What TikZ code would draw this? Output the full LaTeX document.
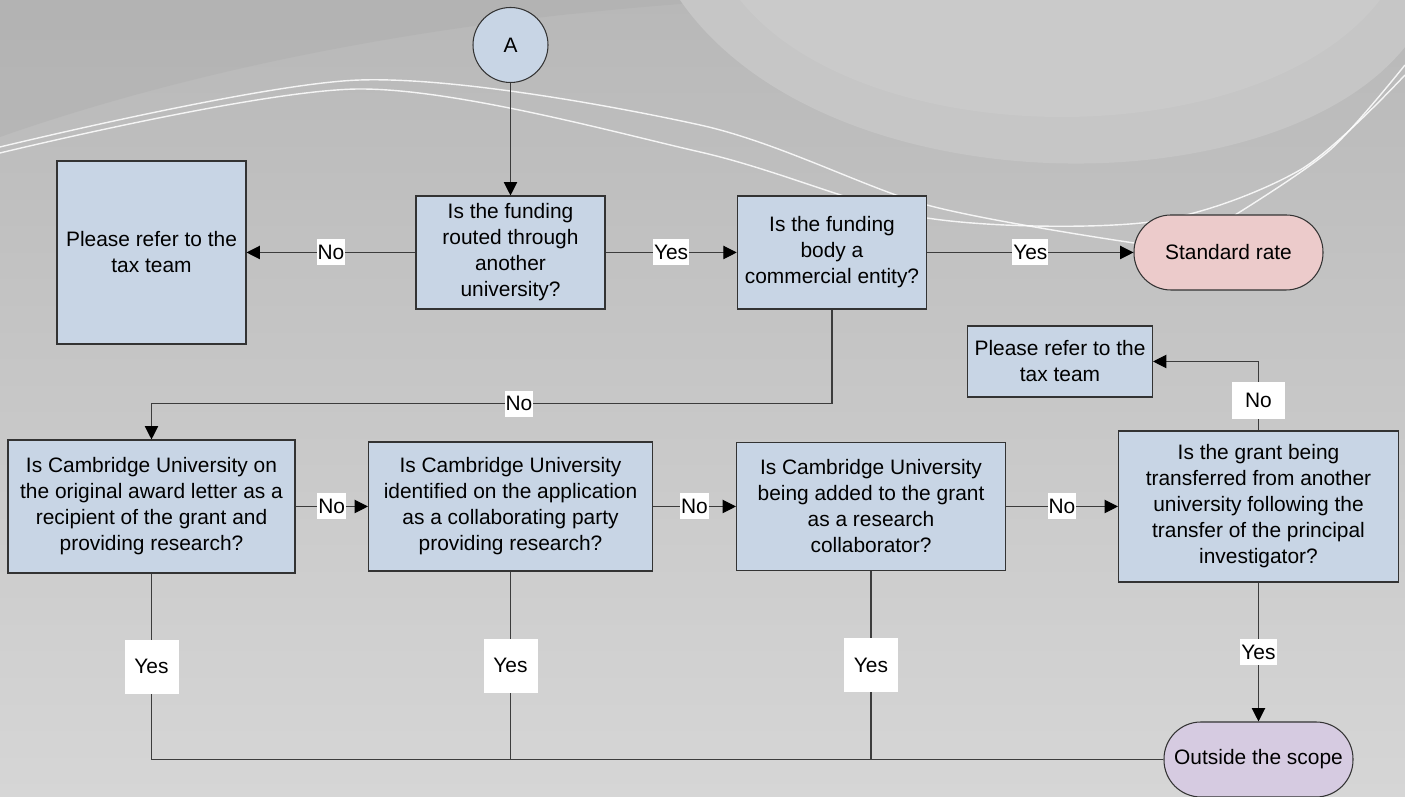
\documentclass[tikz,border=0pt]{standalone}
\usepackage{fontspec}
\setmainfont{Liberation Sans}
\usetikzlibrary{positioning, arrows.meta}

\definecolor{qblue}{RGB}{200,213,229}
\definecolor{stdpink}{RGB}{236,203,203}
\definecolor{scopelilac}{RGB}{214,203,225}
\definecolor{edgegray}{RGB}{60,60,60}
\definecolor{bgtop}{RGB}{184,184,184}
\definecolor{bgbottom}{RGB}{214,214,214}
\definecolor{bgdark}{RGB}{170,170,170}
\definecolor{bowlgray}{RGB}{202,202,202}
\definecolor{bandgray}{RGB}{198,198,198}

\newcommand{\flowfont}{\fontsize{11.9pt}{14.8pt}\selectfont}

\begin{document}
\begin{tikzpicture}[node distance=1.5cm]
    % Define styles
    \tikzstyle{question} = [rectangle, draw=black!80, fill=qblue, align=center, font=\flowfont, line width=0.6pt]
    \tikzstyle{terminal} = [rectangle, rounded corners=0.74cm, draw=black!80, align=center, font=\flowfont, minimum width=3.78cm, minimum height=1.5cm, line width=0.6pt]
    \tikzstyle{connector} = [circle, draw=black!80, fill=qblue, font=\flowfont, minimum size=1.5cm, inner sep=0pt, line width=0.6pt]
    \tikzstyle{line} = [draw=edgegray, line width=0.6pt]
    \tikzstyle{arrow} = [line, -{Triangle[length=7.6pt, width=7.6pt, color=black]}]
    \tikzstyle{lbl} = [fill=white, font=\flowfont, inner xsep=0.6pt, inner ysep=0pt, minimum height=0.52cm]
    \tikzstyle{midlbl} = [fill=white, font=\flowfont, inner sep=0pt, minimum width=1.06cm, minimum height=0.74cm]
    \tikzstyle{biglbl} = [fill=white, font=\flowfont, inner sep=0pt, minimum width=1.08cm, minimum height=1.08cm]

    \useasboundingbox (0,0) rectangle (28.1,15.94);

    % Background
    \shade[top color=bgtop, bottom color=bgbottom] (0,0) rectangle (28.1,15.94);
    \fill[bgdark, opacity=0.35] (0,15.94) -- (0,13.2) .. controls (4,14.6) and (9,15.6) .. (14.8,15.94) -- cycle;
    \fill[bandgray] (13.6,15.94) .. controls (16.5,11.75) and (25.5,11.75) .. (28.1,15.0) -- (28.1,15.94) -- cycle;
    \fill[bowlgray] (14.8,15.94) .. controls (17.3,12.82) and (25.2,12.82) .. (27.6,15.94) -- cycle;
    \draw[white, line width=0.8pt, opacity=0.85] plot[smooth] coordinates {(0,13.0) (7.2,14.34) (14,13.44) (18.54,11.84) (22.68,11.08)};
    \draw[white, line width=0.8pt, opacity=0.85] plot[smooth] coordinates {(0,12.88) (7.2,14.16) (14,12.9) (18.54,11.58) (23,11.5) (26,12.54) (28.1,14.44)};
    \draw[white, line width=0.8pt, opacity=0.85] plot[smooth] coordinates {(24.7,11.64) (26.6,12.94) (28.1,14.64)};

    % Top row
    \node (route) [question, minimum width=3.78cm, minimum height=2.26cm] at (10.21,10.89) {Is the funding\\ routed through\\ another\\ university?};

    \node (ringA) [connector, above of=route, yshift=2.65cm] {A};

    \node (taxleft) [question, left of=route, xshift=-5.68cm, minimum width=3.78cm, minimum height=3.66cm] {Please refer to the\\ tax team};

    \node (commercial) [question, right of=route, xshift=4.93cm, minimum width=3.79cm, minimum height=2.26cm] {Is the funding\\ body a\\ commercial entity?};

    \node (standard) [terminal, fill=stdpink, right of=commercial, xshift=6.43cm] {Standard rate};

    % Second row
    \node (original) [question, below of=taxleft, yshift=-3.58cm, minimum width=5.74cm, minimum height=2.66cm] {Is Cambridge University on\\ the original award letter as a\\ recipient of the grant and\\ providing research?};

    \node (identified) [question, right of=original, xshift=5.68cm, minimum width=5.68cm, minimum height=2.58cm] {Is Cambridge University\\ identified on the application\\ as a collaborating party\\ providing research?};

    \node (added) [question, right of=identified, xshift=5.71cm, minimum width=5.38cm, minimum height=2.56cm] {Is Cambridge University\\ being added to the grant\\ as a research\\ collaborator?};

    \node (transfer) [question, right of=added, xshift=6.25cm, minimum width=5.6cm, minimum height=3.02cm] {Is the grant being\\ transferred from another\\ university following the\\ transfer of the principal\\ investigator?};

    \node (taxright) [question, above of=transfer, yshift=1.4cm, xshift=-3.97cm, minimum width=3.7cm, minimum height=1.42cm] {Please refer to the\\ tax team};

    \node (outside) [terminal, fill=scopelilac, below of=transfer, yshift=-3.56cm] {Outside the scope};

    % Top row arrows
    \draw [arrow] (ringA) -- (route);
    \draw [arrow] (route) -- node[lbl] {No} (taxleft);
    \draw [arrow] (route) -- node[lbl] {Yes} (commercial);
    \draw [arrow] (commercial) -- node[lbl] {Yes} (standard);
    \draw [arrow] (commercial.south) -- ++(0,-1.88) -| node[lbl, pos=0.23] {No} (original.north);

    % Second row arrows
    \draw [arrow] (original) -- node[lbl] {No} (identified);
    \draw [arrow] (identified) -- node[lbl] {No} (added);
    \draw [arrow] (added) -- node[lbl] {No} (transfer);
    \draw [arrow] (transfer.north) |- node[midlbl, pos=0.22] {No} (taxright.east);
    \draw [arrow] (transfer) -- node[lbl] {Yes} (outside);

    % Lines into the scope terminal
    \draw [line] (original.south) |- node[biglbl, pos=0.25] {Yes} (outside.west);
    \draw [line] (identified.south) |- node[biglbl, pos=0.25] {Yes} (outside.west);
    \draw [line] (added.south) |- node[biglbl, pos=0.25] {Yes} (outside.west);

\end{tikzpicture}
\end{document}
